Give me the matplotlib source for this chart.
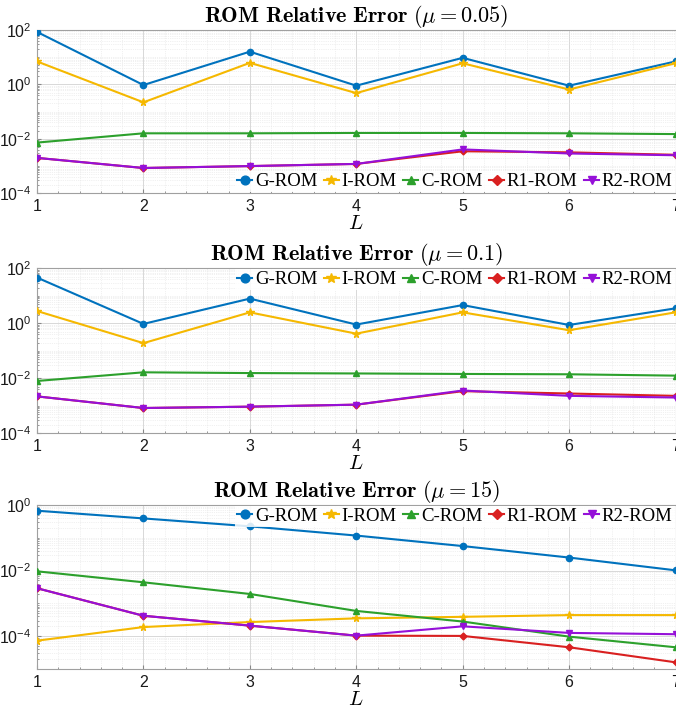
import math
import matplotlib
matplotlib.use('Agg')
import matplotlib.pyplot as plt
from matplotlib.ticker import LogLocator, FixedLocator, MultipleLocator, FuncFormatter, NullFormatter

plt.rcParams['mathtext.fontset'] = 'cm'
plt.rcParams['font.family'] = ['Liberation Sans', 'DejaVu Sans']

L = [1, 2, 3, 4, 5, 6, 7]
labels = ['G-ROM', 'I-ROM', 'C-ROM', 'R1-ROM', 'R2-ROM']
mus = ['0.05', '0.1', '15']

# mu = 0.05
g1 = [85, 0.95, 16, 0.9, 9.5, 0.9, 7.0]
i1 = [7.0, 0.22, 6.2, 0.48, 6.0, 0.65, 6.0]
c1 = [7.3e-3, 1.6e-2, 1.6e-2, 1.65e-2, 1.65e-2, 1.6e-2, 1.5e-2]
r1_1 = [2.0e-3, 8.5e-4, 1.0e-3, 1.2e-3, 3.5e-3, 3.2e-3, 2.6e-3]
r2_1 = [2.0e-3, 8.5e-4, 1.0e-3, 1.2e-3, 4.1e-3, 2.9e-3, 2.5e-3]

# mu = 0.1
g2 = [46, 0.95, 7.9, 0.9, 4.6, 0.87, 3.5]
i2 = [2.8, 0.19, 2.5, 0.42, 2.5, 0.56, 2.5]
c2 = [8.0e-3, 1.65e-2, 1.55e-2, 1.5e-2, 1.44e-2, 1.4e-2, 1.25e-2]
r1_2 = [2.2e-3, 8.3e-4, 9.3e-4, 1.1e-3, 3.4e-3, 2.8e-3, 2.3e-3]
r2_2 = [2.2e-3, 8.3e-4, 9.3e-4, 1.1e-3, 3.6e-3, 2.3e-3, 2.0e-3]

# mu = 15
g3 = [0.67, 0.39, 0.224, 0.117, 0.056, 0.025, 0.0102]
i3 = [7.3e-5, 1.9e-4, 2.7e-4, 3.5e-4, 3.9e-4, 4.4e-4, 4.4e-4]
c3 = [9.5e-3, 4.4e-3, 1.94e-3, 5.9e-4, 2.8e-4, 9.7e-5, 4.6e-5]
r1_3 = [2.9e-3, 4.2e-4, 2.1e-4, 1.04e-4, 1.02e-4, 4.6e-5, 1.6e-5]
r2_3 = [2.9e-3, 4.2e-4, 2.1e-4, 1.04e-4, 2.0e-4, 1.26e-4, 1.15e-4]

data = [[g1, i1, c1, r1_1, r2_1], [g2, i2, c2, r1_2, r2_2], [g3, i3, c3, r1_3, r2_3]]
ylims = [(1e-4, 1e2), (1e-4, 1e2), (1e-5, 1e0)]
yticks = [[1e-4, 1e-2, 1e0, 1e2], [1e-4, 1e-2, 1e0, 1e2], [1e-4, 1e-2, 1e0]]
leg_loc = ['lower right', 'upper right', 'upper right']

colors = ['#0072BD', '#F5B800', '#2CA02C', '#D92020', '#9510D8']
markers = ['o', '*', '^', 'D', 'v']
msizes = [4.5, 5.5, 4.5, 3.5, 4.5]

# axes boxes in pixels (top, bottom) of a 676x710 figure
boxes = [(30, 193.3), (268.3, 433.3), (505, 669)]

def fmt_pow(v, pos):
    return r'$\mathregular{10^{%d}}$' % round(math.log10(v))

fig = plt.figure(figsize=(6.76, 7.1), dpi=100)
for k in range(3):
    top, bot = boxes[k]
    ax = fig.add_axes([37 / 676, 1 - bot / 710, 638.5 / 676, (bot - top) / 710])
    for j in range(5):
        ax.plot(L, data[k][j], color=colors[j], marker=markers[j], ms=msizes[j],
                lw=1.5, label=labels[j], zorder=3 + j)
    ax.set_yscale('log')
    ax.set_ylim(*ylims[k])
    ax.set_xlim(1, 7)
    ax.yaxis.set_major_locator(FixedLocator(yticks[k]))
    ax.yaxis.set_minor_locator(LogLocator(base=10, subs=range(1, 10), numticks=20))
    ax.yaxis.set_minor_formatter(NullFormatter())
    ax.yaxis.set_major_formatter(FuncFormatter(fmt_pow))
    ax.xaxis.set_major_locator(MultipleLocator(1))
    ax.xaxis.set_minor_locator(MultipleLocator(0.2))
    ax.grid(True, which='major', color='#d8d8d8', lw=0.7)
    ax.grid(True, which='minor', color='#e3e3e3', lw=0.5, ls=':')
    ax.tick_params(which='both', direction='in', colors='#888888', labelcolor='#1a1a1a',
                   labelsize=11.5, length=3, pad=4)
    ax.tick_params(which='minor', length=1.5)
    for s in ax.spines.values():
        s.set_color('#a0a0a0')
        s.set_linewidth(0.8)
    ax.set_axisbelow(True)
    ax.set_xlabel('$L$', fontsize=15, labelpad=0)
    ax.set_title(r'$\mathbf{ROM\ Relative\ Error}\ (\mu = %s)$' % mus[k], fontsize=16, pad=4)
    leg = ax.legend(loc=leg_loc[k], ncol=5, frameon=True, framealpha=0.85, edgecolor='none',
                    prop={'family': 'Liberation Serif', 'size': 13.5}, handlelength=0.8,
                    handletextpad=0.15, columnspacing=0.35, borderaxespad=0.05,
                    borderpad=0.1, fancybox=False, markerscale=1.4)
    leg.get_frame().set_linewidth(0)

fig.savefig('out.png', dpi=100)
